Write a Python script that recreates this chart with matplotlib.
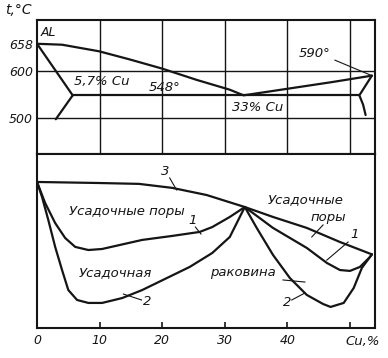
import matplotlib.pyplot as plt

# --- phase diagram (top) ---
liq_x = [0, 4.0, 9.9, 14.7, 20.0, 25.5, 30.8, 33, 40, 47, 53.5]
liq_t = [658, 656, 642, 625, 605, 581, 560, 548, 562, 576, 590]
sol_x = [0, 5.7]
sol_t = [658, 548]
solv_x = [5.7, 3.0]
solv_t = [548, 497]
eut_x = [5.7, 51.5]
eut_t = [548, 548]
right_x = [53.5, 51.5, 52.1, 52.5]
right_t = [590, 548, 528, 506]

# --- shrinkage curves (bottom), arbitrary units ---
c3_x = [0, 9.9, 16.3, 21.6, 27.1, 33.2, 37.7, 43.1, 48.4, 53.5]
c3_v = [83.9, 83.3, 82.8, 80.5, 76.4, 69.5, 63.8, 57.5, 49.4, 42.3]
c1_x = [0, 1.3, 2.9, 4.5, 6.1, 8.2, 10.4, 16.8, 21.6, 26.0, 28.0, 30.8, 33.2,
        37.7, 43.1, 46.3, 48.4, 50.0, 51.6, 53.2, 53.5]
c1_v = [83.9, 71.8, 60.3, 51.7, 46.6, 44.8, 45.4, 50.6, 52.9, 55.2, 58.0, 63.8, 69.5,
        57.5, 46.0, 37.4, 33.3, 32.8, 35.1, 40.8, 42.3]
c2_x = [0, 0.8, 1.8, 2.9, 4.0, 5.0, 6.4, 8.2, 10.4, 13.6, 16.8, 24.4, 28.0, 30.8, 32.4, 33.2,
        35.1, 37.7, 40.4, 43.1, 45.7, 46.9, 49.0, 50.6, 51.9, 53.5]
c2_v = [83.9, 75.3, 62.1, 46.6, 33.3, 21.8, 16.1, 14.4, 14.4, 17.2, 21.8, 35.1, 43.1, 52.3, 63.8, 69.5,
        57.5, 42.0, 28.7, 19.0, 13.8, 12.1, 14.4, 23.0, 34.5, 42.3]

x_ticks = [0, 10, 20, 30, 40]
grid_x = [10, 20, 30, 40, 50]

ink = '#151515'
plt.rcParams['font.family'] = 'DejaVu Sans'
plt.rcParams['font.style'] = 'italic'

fig = plt.figure(figsize=(3.88, 3.58), dpi=100)
ax1 = fig.add_axes([0.0954, 0.570, 0.8711, 0.374])
ax2 = fig.add_axes([0.0954, 0.0838, 0.8711, 0.4862])

for ax in (ax1, ax2):
    ax.set_xlim(0, 54)
    for s in ax.spines.values():
        s.set_linewidth(1.5)
        s.set_color(ink)

# top panel
ax1.set_ylim(423, 708.6)
for gx in grid_x:
    ax1.axvline(gx, color=ink, lw=1.0)
for gy in [500, 600]:
    ax1.axhline(gy, color=ink, lw=1.0)
kw = dict(color=ink, lw=1.6, solid_capstyle='round', solid_joinstyle='round')
ax1.plot(liq_x, liq_t, **kw)
ax1.plot(sol_x, sol_t, **kw)
ax1.plot(solv_x, solv_t, **kw)
ax1.plot(eut_x, eut_t, **kw)
ax1.plot(right_x, right_t, **kw)
ax1.plot([47.6, 53.5], [623, 590], color=ink, lw=0.8)
ax1.set_xticks([])
ax1.set_yticks([500, 600, 658])
ax1.set_yticklabels(['500', '600', '658'])
ax1.tick_params(axis='y', length=0, pad=3, labelsize=9, colors=ink)

ts = dict(color=ink, fontsize=9.5, ha='center', va='center')
ax1.text(0.6, 681, 'AL', ha='left', va='center', color=ink, fontsize=9)
ax1.text(10.4, 577, '5,7% Cu', **ts)
ax1.text(20.4, 564, '548°', **ts)
ax1.text(35.3, 523, '33% Cu', **ts)
ax1.text(44.4, 638, '590°', **ts)
fig.text(0.012, 0.972, 't,°C', color=ink, fontsize=10, ha='left', va='center')

# bottom panel
ax2.set_ylim(0, 100)
ax2.plot(c3_x, c3_v, **kw)
ax2.plot(c1_x, c1_v, **kw)
ax2.plot(c2_x, c2_v, **kw)
ax2.set_yticks([])
ax2.set_xticks(x_ticks + [50])
ax2.set_xticklabels([str(t) for t in x_ticks] + [''])
ax2.tick_params(axis='x', direction='in', length=4, width=1.2, pad=4,
                labelsize=9, colors=ink)
ax2.text(52, -7.5, 'Cu,%', **ts)

lk = dict(color=ink, lw=0.8)
ax2.text(20.4, 89.7, '3', **ts)
ax2.plot([21.2, 22.3], [86.2, 79.3], **lk)
ax2.text(14.3, 66.7, 'Усадочные поры', **ts)
ax2.text(24.8, 61.5, '1', **ts)
ax2.plot([25.3, 26.2], [58.0, 54.0], **lk)
ax2.text(12.5, 31.6, 'Усадочная', **ts)
ax2.text(17.6, 15.0, '2', **ts)
ax2.plot([13.8, 16.7], [19.5, 16.1], **lk)
ax2.text(42.9, 73.6, 'Усадочные', **ts)
ax2.text(46.5, 63.2, 'поры', **ts)
ax2.plot([43.9, 45.7], [52.3, 59.2], **lk)
ax2.text(50.8, 54.0, '1', **ts)
ax2.plot([46.3, 49.7], [39.0, 49.4], **lk)
ax2.text(32.9, 31.6, 'раковина', **ts)
ax2.plot([39.3, 42.8], [27.6, 26.4], **lk)
ax2.text(39.9, 14.4, '2', **ts)
ax2.plot([40.7, 42.8], [16.1, 20.1], **lk)

fig.savefig('out.png', dpi=100)
